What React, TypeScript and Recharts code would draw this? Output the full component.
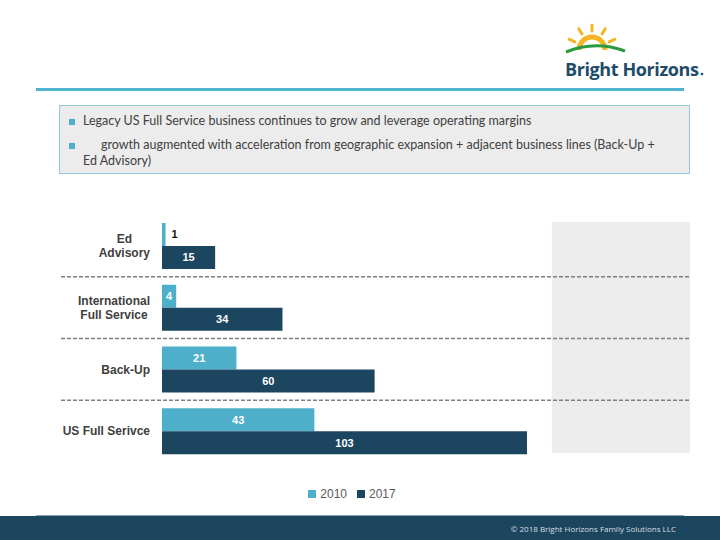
import React from 'react';
import {
  Bar,
  BarChart,
  LabelList,
  Legend,
  ReferenceArea,
  ReferenceLine,
  XAxis,
  YAxis,
} from 'recharts';

const CATEGORIES = ['Ed Advisory', 'International Full Service', 'Back-Up', 'US Full Serivce'];
const CATEGORY_LINES = [['Ed', 'Advisory'], ['International', 'Full Service'], ['Back-Up'], ['US Full Serivce']];
const VALUES_2010 = [1, 4, 21, 43];
const VALUES_2017 = [15, 34, 60, 103];

const LIGHT = '#4eafca';
const DARK = '#1c465f';
const NAVY = '#1c465e';

const data = CATEGORIES.map((name, i) => ({
  name,
  y2010: VALUES_2010[i],
  y2017: VALUES_2017[i],
}));

// helper axis spans the category index range [0, n-1]; band edges fall on multiples of (n-1)/n
const N = CATEGORIES.length;
const SEP_DOMAIN: [number, number] = [0, N - 1];
const SEPARATORS = Array.from({ length: N - 1 }, (_, k) => ((k + 1) * (N - 1)) / N);

let ctx: CanvasRenderingContext2D | null = null;
function measure(text: string, font: string) {
  try {
    if (!ctx) ctx = document.createElement('canvas').getContext('2d');
    if (!ctx) return text.length * 7;
    ctx.font = font;
    return ctx.measureText(text).width;
  } catch {
    return text.length * 7;
  }
}

const LABEL_RIGHT = 150;
const CAT_FONT = 'bold 12px "Liberation Sans", Arial, sans-serif';

function CategoryTick(props: any) {
  const { y, payload } = props;
  const idx = CATEGORIES.indexOf(payload?.value);
  const lines: string[] = idx >= 0 ? CATEGORY_LINES[idx] : [String(payload?.value)];
  const w = Math.max(...lines.map(l => measure(l, CAT_FONT)));
  const cx = LABEL_RIGHT - w / 2;
  const lh = 14;
  const start = y - ((lines.length - 1) * lh) / 2;
  return (
    <g>
      {lines.map((l, i) => (
        <text
          key={i}
          x={cx}
          y={start + i * lh}
          dy="0.35em"
          textAnchor="middle"
          fontFamily='"Liberation Sans", Arial, sans-serif'
          fontWeight="bold"
          fontSize={12}
          fill="#404040"
        >
          {l}
        </text>
      ))}
    </g>
  );
}

function BarValue(props: any) {
  const { x, y, width, height, value } = props;
  const small = width < 8;
  return (
    <text
      x={small ? x + width + 6 : x + width / 2}
      y={y + height / 2}
      dy="0.35em"
      textAnchor={small ? 'start' : 'middle'}
      fontFamily='"Liberation Sans", Arial, sans-serif'
      fontWeight="bold"
      fontSize={11}
      fill={small ? '#111111' : '#ffffff'}
    >
      {value}
    </text>
  );
}

function PanelShape(props: any) {
  const { x, y, width, height } = props;
  return <rect x={x} y={y + 7} width={width} height={height - 16} fill="#ededed" />;
}

function Logo() {
  const rays = [-155, -122, -90, -58, -25];
  const cx = 37;
  const cy = 35;
  return (
    <svg width={160} height={70} style={{ position: 'absolute', left: 555, top: 15 }}>
      {rays.map((a, i) => {
        const r = (a * Math.PI) / 180;
        return (
          <line
            key={i}
            x1={cx + Math.cos(r) * 19}
            y1={cy + Math.sin(r) * 19}
            x2={cx + Math.cos(r) * 25}
            y2={cy + Math.sin(r) * 25}
            stroke="#f3b523"
            strokeWidth={3}
            strokeLinecap="round"
          />
        );
      })}
      <path d="M 24 35 A 13 13 0 0 1 50 35" fill="none" stroke="#f3b523" strokeWidth={5} />
      <path d="M 11 37 Q 40 25 70 36" fill="none" stroke="#2a9a3e" strokeWidth={3} />
      <text
        x={10}
        y={61}
        fontFamily='"Open Sans", "Liberation Sans", sans-serif'
        fontWeight="bold"
        fontSize={18}
        fill="#1d4b68"
        letterSpacing={-0.4}
      >
        Bright Horizons
      </text>
      <circle cx={147} cy={59} r={1.3} fill="#1d4b68" />
    </svg>
  );
}

const bulletStyle: React.CSSProperties = {
  position: 'absolute',
  width: 6,
  height: 6,
  background: '#4eafca',
  left: 9,
};

export default function App() {
  return (
    <div
      style={{
        position: 'absolute',
        left: 0,
        top: 0,
        width: 720,
        height: 540,
        background: '#ffffff',
        overflow: 'hidden',
        fontFamily: 'Lato, "Open Sans", sans-serif',
      }}
    >
      <Logo />
      <div style={{ position: 'absolute', left: 36, top: 88, width: 648, height: 3, background: '#4eb3cf' }} />
      <div
        style={{
          position: 'absolute',
          left: 59,
          top: 105,
          width: 629,
          height: 67,
          background: '#ececec',
          border: '1px solid #8ecadd',
          color: '#404040',
          fontSize: 12.5,
        }}
      >
        <div style={{ ...bulletStyle, top: 13 }} />
        <div style={{ position: 'absolute', left: 23, top: 7, whiteSpace: 'nowrap' }}>
          Legacy US Full Service business continues to grow and leverage operating margins
        </div>
        <div style={{ ...bulletStyle, top: 37 }} />
        <div style={{ position: 'absolute', left: 23, top: 31, lineHeight: '15.5px', whiteSpace: 'nowrap' }}>
          <span style={{ paddingLeft: 18 }}>
            growth augmented with acceleration from geographic expansion + adjacent business lines (Back-Up +
          </span>
          <br />
          Ed Advisory)
        </div>
      </div>

      <div style={{ position: 'absolute', left: 0, top: 0 }}>
        <BarChart
          width={720}
          height={540}
          layout="vertical"
          data={data}
          margin={{ top: 215, right: 30, bottom: 78, left: 60 }}
          barGap={0}
          barSize={23}
        >
          <XAxis type="number" domain={[-28.5, 149]} hide />
          <YAxis
            type="category"
            dataKey="name"
            width={1}
            axisLine={false}
            tickLine={false}
            tick={(p: any) => <CategoryTick {...p} />}
            interval={0}
          />
          <YAxis yAxisId="sep" type="number" domain={SEP_DOMAIN} hide />
          <ReferenceArea x1={110} x2={149} shape={<PanelShape />} ifOverflow="visible" />
          {SEPARATORS.map(s => (
            <ReferenceLine
              key={s}
              yAxisId="sep"
              y={s}
              stroke="#7f7f7f"
              strokeWidth={1.5}
              strokeDasharray="4 2"
            />
          ))}
          <Legend
            layout="horizontal"
            verticalAlign="middle"
            align="center"
            iconType="square"
            iconSize={8}
            wrapperStyle={{ top: 482, left: 0, width: 714 }}
            formatter={(v: string) => (
              <span style={{ color: '#595959', fontSize: 12, fontFamily: '"Liberation Sans", Arial, sans-serif' }}>{v}</span>
            )}
          />
          <Bar dataKey="y2010" name="2010" fill={LIGHT} isAnimationActive={false}>
            <LabelList dataKey="y2010" content={<BarValue />} />
          </Bar>
          <Bar dataKey="y2017" name="2017" fill={DARK} isAnimationActive={false}>
            <LabelList dataKey="y2017" content={<BarValue />} />
          </Bar>
        </BarChart>
      </div>

      <div style={{ position: 'absolute', left: 0, top: 516, width: 720, height: 24, background: NAVY }} />
      <div style={{ position: 'absolute', left: 36, top: 515, width: 648, height: 1, background: '#8aa3b3' }} />
      <div
        style={{
          position: 'absolute',
          right: 44,
          top: 523,
          fontSize: 8,
          color: '#d8dde2',
          fontFamily: '"Open Sans", sans-serif',
        }}
      >
        © 2018 Bright Horizons Family Solutions LLC
      </div>
    </div>
  );
}
